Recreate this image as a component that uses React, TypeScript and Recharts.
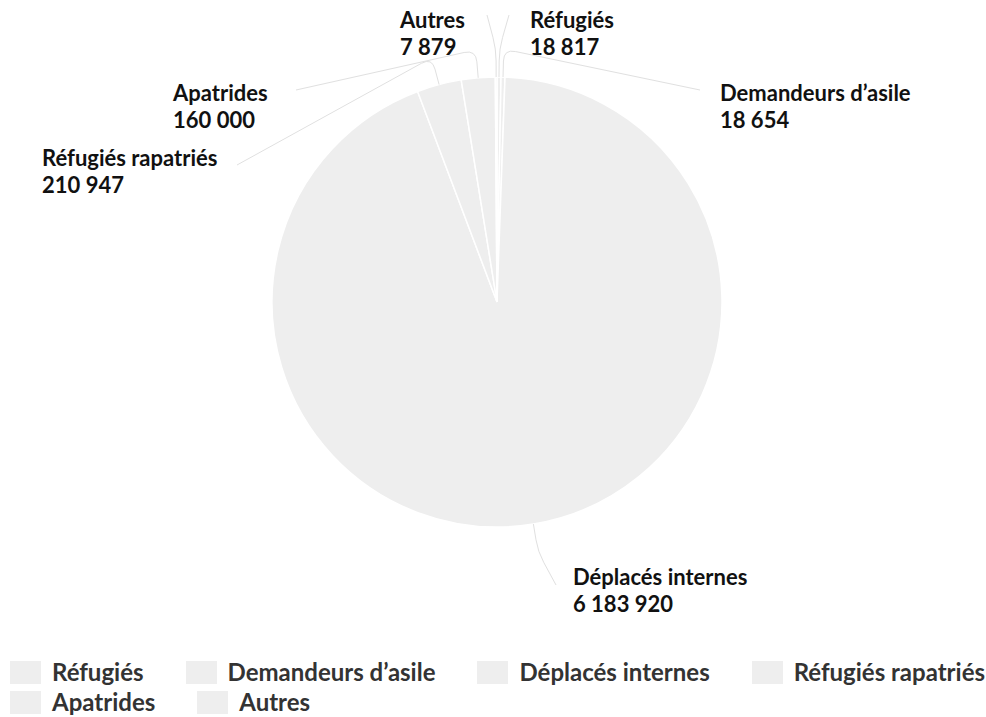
import React from 'react';
import { PieChart, Pie, Cell } from 'recharts';

// Population relevant du HCR
const categories = ['Réfugiés', 'Demandeurs d’asile', 'Déplacés internes', 'Réfugiés rapatriés', 'Apatrides', 'Autres'];
const values = [18817, 18654, 6183920, 210947, 160000, 7879];

const data = categories.map((name, i) => ({ name, value: values[i] }));

const SLICE = '#eeeeee';
const LINE = '#e0e0e0';
const FONT = 'Lato, "Noto Sans", sans-serif';

// where each label sits, relative to the pie centre (label-layout offsets)
const labelLayout: Record<string, { end: [number, number]; text: [number, number] }> = {
  'Réfugiés': { end: [12, -287], text: [33, -274] },
  'Demandeurs d’asile': { end: [203, -212], text: [223, -201] },
  'Déplacés internes': { end: [59, 283], text: [76, 283] },
  'Réfugiés rapatriés': { end: [-260, -137], text: [-455, -136] },
  'Apatrides': { end: [-201, -212], text: [-324, -201] },
  'Autres': { end: [-10, -287], text: [-97, -274] },
};

const fmt = (v: number) => String(v).replace(/\B(?=(\d{3})+(?!\d))/g, ' ');

const RAD = Math.PI / 180;

const renderLabel = (props: any) => {
  const { cx, cy, midAngle, outerRadius, name, value } = props;
  const lay = labelLayout[name];
  if (!lay) return null;
  const cos = Math.cos(-midAngle * RAD);
  const sin = Math.sin(-midAngle * RAD);
  const ex = cx + outerRadius * cos;
  const ey = cy + outerRadius * sin;
  const len = 28;
  const px = ex + len * cos;
  const py = ey + len * sin;
  const endX = cx + lay.end[0];
  const endY = cy + lay.end[1];
  const k = 12;
  const ax = ex + (len - k) * cos;
  const ay = ey + (len - k) * sin;
  const dx = endX - px;
  const dy = endY - py;
  const d = Math.hypot(dx, dy) || 1;
  const bx = px + (dx / d) * Math.min(k, d);
  const by = py + (dy / d) * Math.min(k, d);
  const path = `M${ex},${ey} L${ax},${ay} Q${px},${py} ${bx},${by} L${endX},${endY}`;
  const tx = cx + lay.text[0];
  const ty = cy + lay.text[1];
  return (
    <g>
      <path d={path} stroke={LINE} strokeWidth={1} fill="none" />
      <text x={tx} y={ty} fill="#111" fontFamily={FONT} fontWeight={700} fontSize={22}>
        <tspan x={tx} dy={0}>{name}</tspan>
        <tspan x={tx} dy={27}>{fmt(value)}</tspan>
      </text>
    </g>
  );
};

const App: React.FC = () => {
  return (
    <div style={{ position: 'absolute', left: 0, top: 0, width: 986, height: 717, background: '#fff' }}>
      <PieChart width={986} height={650} margin={{ top: 0, right: 0, bottom: 0, left: 0 }}>
        <Pie
          data={data}
          dataKey="value"
          nameKey="name"
          cx={497}
          cy={302}
          outerRadius={225}
          startAngle={90}
          endAngle={-270}
          stroke="#ffffff"
          strokeWidth={1.5}
          label={renderLabel}
          labelLine={false}
          isAnimationActive={false}
        >
          {data.map((d) => (
            <Cell key={d.name} fill={SLICE} />
          ))}
        </Pie>
      </PieChart>
      <div
        style={{
          position: 'absolute',
          left: 10,
          top: 660,
          width: 976,
          display: 'flex',
          flexWrap: 'wrap',
          rowGap: 6,
          columnGap: 42,
          fontFamily: FONT,
        }}
      >
        {categories.map((name) => (
          <div key={name} style={{ display: 'flex', alignItems: 'center', height: 24, whiteSpace: 'nowrap' }}>
            <div style={{ width: 31, height: 23, background: SLICE, marginRight: 11 }} />
            <span style={{ fontSize: 24, fontWeight: 700, color: '#333', lineHeight: '24px' }}>{name}</span>
          </div>
        ))}
      </div>
    </div>
  );
};

export default App;
